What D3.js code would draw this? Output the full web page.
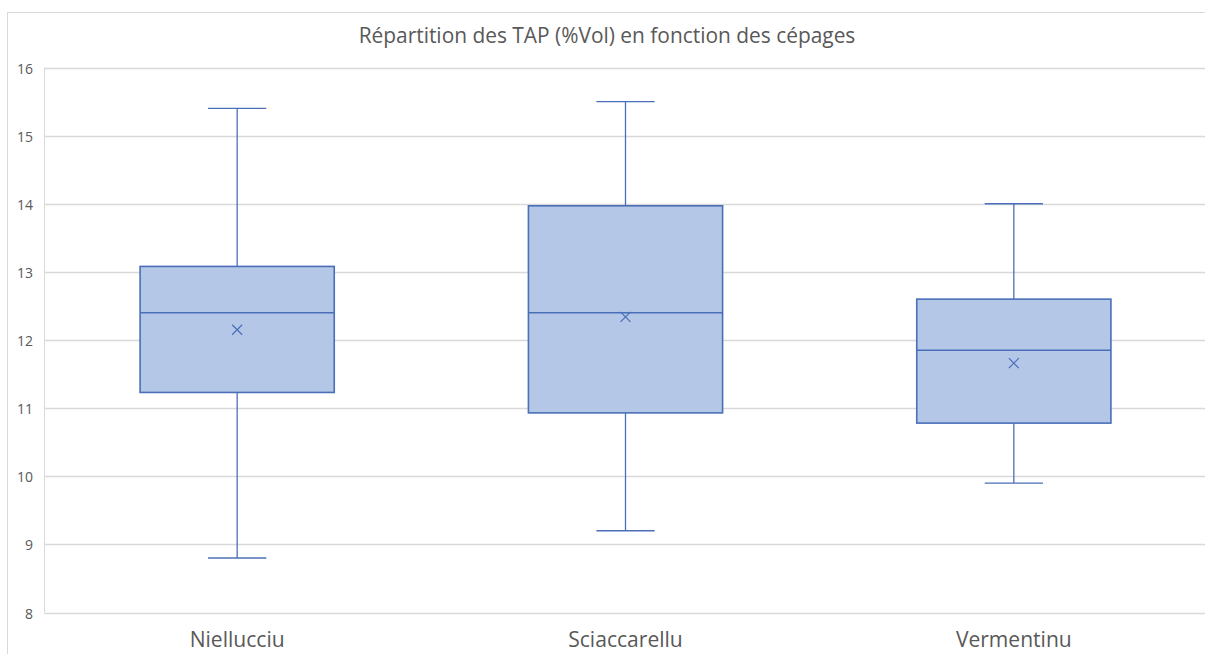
<!DOCTYPE html>
<html>
<head>
<meta charset="utf-8">
<script src="https://cdn.jsdelivr.net/npm/d3@7"></script>
<style>
  body { margin: 0; background: #fff; }
  svg { display: block; }
</style>
</head>
<body>
<div id="chart"></div>
<script>
const categories = ['Niellucciu', 'Sciaccarellu', 'Vermentinu'];
const mins    = [8.8, 9.2, 9.9];
const q1s     = [11.23, 10.93, 10.78];
const medians = [12.4, 12.4, 11.85];
const q3s     = [13.08, 13.97, 12.6];
const maxs    = [15.4, 15.5, 14.0];
const means   = [12.15, 12.34, 11.66];
const yTicks  = [8, 9, 10, 11, 12, 13, 14, 15, 16];

const width = 1205, height = 654;
const font = '"Open Sans", sans-serif';

const svg = d3.select('#chart')
              .append('svg')
              .attr('width', width)
              .attr('height', height);

// chart border (right side runs off the picture)
svg.append('rect')
   .attr('x', 7.5).attr('y', 12.5)
   .attr('width', 1220).attr('height', 660)
   .attr('fill', 'none')
   .attr('stroke', '#d9d9d9');

let scaleX = d3.scaleBand().domain(categories).range([43, 1208]);
let scaleY = d3.scaleLinear().domain([8, 16]).range([612.5, 67.5]);

// shrink/grow a text until it is the wanted width
function fit(sel, target) {
  const w = sel.node().getComputedTextLength();
  const fs = parseFloat(sel.style('font-size'));
  sel.style('font-size', (fs * target / w).toFixed(2) + 'px');
}

// gridlines
svg.selectAll('.grid')
   .data(yTicks)
   .enter()
   .append('line')
   .attr('x1', 44).attr('x2', width)
   .attr('y1', d => Math.round(scaleY(d)) + 0.5)
   .attr('y2', d => Math.round(scaleY(d)) + 0.5)
   .attr('stroke', '#d9d9d9')
   .attr('stroke-width', 1.3);

svg.append('line')
   .attr('x1', 44.5).attr('x2', 44.5)
   .attr('y1', scaleY(16)).attr('y2', scaleY(8))
   .attr('stroke', '#d9d9d9');

// y labels
let ylabs = svg.selectAll('.ylab')
   .data(yTicks)
   .enter()
   .append('text')
   .attr('x', 33)
   .attr('y', d => scaleY(d) + 6)
   .style('text-anchor', 'end')
   .style('font-family', font)
   .style('font-size', '16px')
   .style('fill', '#595959')
   .text(d => d);
{
  const first = ylabs.filter(d => d === 16);
  const w = first.node().getComputedTextLength();
  ylabs.style('font-size', (16 * 16 / w).toFixed(2) + 'px');
}

// x labels
let xlabs = svg.selectAll('.xlab')
   .data(categories)
   .enter()
   .append('text')
   .attr('x', d => scaleX(d) + scaleX.bandwidth() / 2)
   .attr('y', 647)
   .style('text-anchor', 'middle')
   .style('font-family', font)
   .style('font-size', '20px')
   .style('fill', '#595959')
   .text(d => d);
{
  const first = xlabs.filter(d => d === 'Niellucciu');
  const w = first.node().getComputedTextLength();
  xlabs.style('font-size', (20 * 95 / w).toFixed(2) + 'px');
}

// title
let title = svg.append('text')
   .attr('x', 607)
   .attr('y', 43)
   .style('text-anchor', 'middle')
   .style('font-family', font)
   .style('font-size', '20px')
   .style('fill', '#595959')
   .text('Répartition des TAP (%Vol) en fonction des cépages');
fit(title, 497);

const stroke = '#4a6fb8', fill = '#b4c7e7';
const boxW = scaleX.bandwidth() * 0.5;
const capW = scaleX.bandwidth() * 0.15;

const rows = categories.map((c, i) => ({
  c: c, min: mins[i], q1: q1s[i], med: medians[i], q3: q3s[i], max: maxs[i], mean: means[i]
}));

const g = svg.selectAll('.box')
             .data(rows)
             .enter()
             .append('g')
             .attr('transform', d => 'translate(' + (scaleX(d.c) + scaleX.bandwidth() / 2) + ',0)');

// whiskers
g.append('line')
 .attr('x1', 0).attr('x2', 0)
 .attr('y1', d => scaleY(d.max)).attr('y2', d => scaleY(d.q3))
 .attr('stroke', stroke).attr('stroke-width', 1.3);
g.append('line')
 .attr('x1', 0).attr('x2', 0)
 .attr('y1', d => scaleY(d.q1)).attr('y2', d => scaleY(d.min))
 .attr('stroke', stroke).attr('stroke-width', 1.3);
g.append('line')
 .attr('x1', -capW / 2).attr('x2', capW / 2)
 .attr('y1', d => scaleY(d.max)).attr('y2', d => scaleY(d.max))
 .attr('stroke', stroke).attr('stroke-width', 1.3);
g.append('line')
 .attr('x1', -capW / 2).attr('x2', capW / 2)
 .attr('y1', d => scaleY(d.min)).attr('y2', d => scaleY(d.min))
 .attr('stroke', stroke).attr('stroke-width', 1.3);

// box
g.append('rect')
 .attr('x', -boxW / 2)
 .attr('width', boxW)
 .attr('y', d => scaleY(d.q3))
 .attr('height', d => scaleY(d.q1) - scaleY(d.q3))
 .attr('fill', fill)
 .attr('stroke', stroke)
 .attr('stroke-width', 1.6);

// median
g.append('line')
 .attr('x1', -boxW / 2).attr('x2', boxW / 2)
 .attr('y1', d => scaleY(d.med)).attr('y2', d => scaleY(d.med))
 .attr('stroke', stroke).attr('stroke-width', 1.5);

// mean marker
const s = 5;
g.append('path')
 .attr('d', d => {
   const y = scaleY(d.mean);
   return 'M' + (-s) + ',' + (y - s) + 'L' + s + ',' + (y + s) +
          'M' + (-s) + ',' + (y + s) + 'L' + s + ',' + (y - s);
 })
 .attr('stroke', stroke)
 .attr('stroke-width', 1.2)
 .attr('fill', 'none');
</script>
</body>
</html>
